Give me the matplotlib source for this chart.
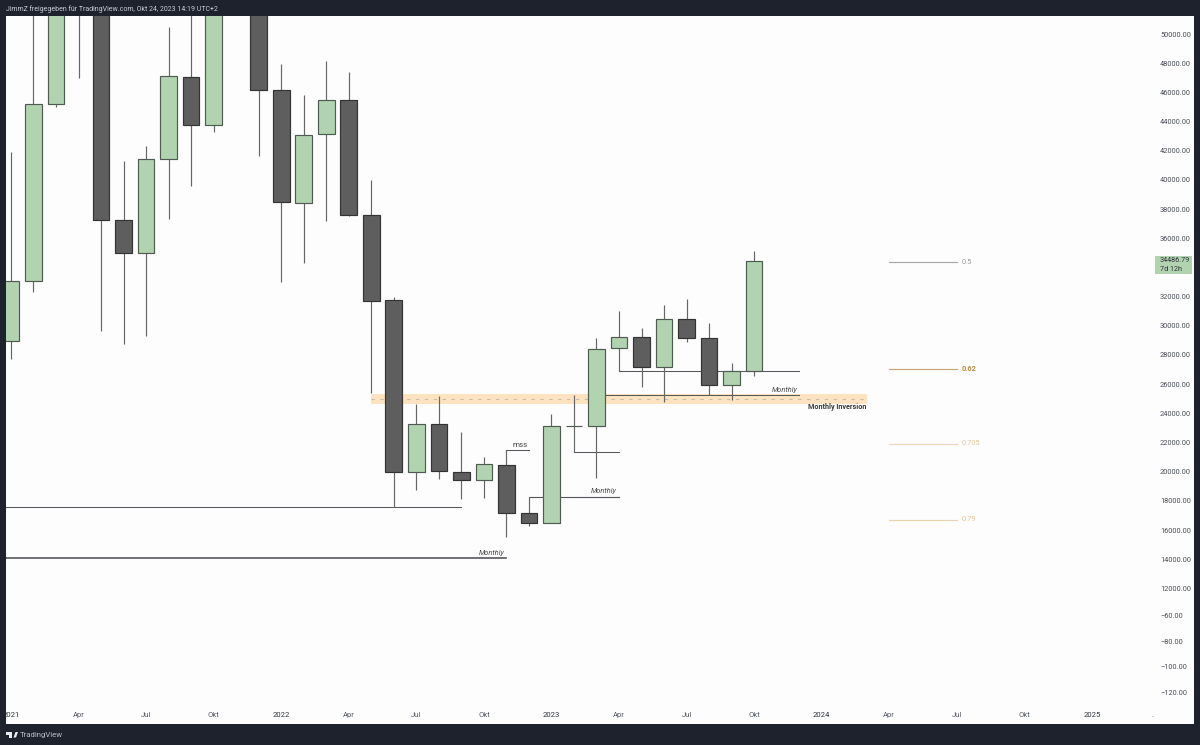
#!/usr/bin/env python3
import matplotlib
matplotlib.use("Agg")
import matplotlib.pyplot as plt
from matplotlib.patches import Rectangle, Polygon

plt.rcParams["font.family"] = ["Roboto", "DejaVu Sans"]

# monthly candles, Jan 2021 .. Oct 2023 (index = months since Jan 2021)
opens = [28958, 33091, 45202, 58800, 57720, 37252, 35010, 41453, 47053, 43740, 61300, 57000,
         46162, 38450, 43146, 45456, 37594, 31768, 19960, 23270, 20000, 19410, 20458, 17150,
         16500, 23130, 23100, 28450, 29210, 27176, 30445, 29185, 25920, 26925]
closes = [33091, 45202, 58800, 57720, 37272, 34990, 41432, 47100, 43763, 61300, 57000, 46140,
          38464, 43098, 45456, 37594, 31720, 19960, 23270, 20048, 19410, 20508, 17170, 16500,
          23132, 23147, 28430, 29210, 27176, 30445, 29185, 25920, 26925, 34460]
highs = [41933, 58000, 61800, 64900, 59500, 41296, 42344, 50480, 52900, 67000, 69000, 59000,
         47923, 45819, 48150, 47395, 39993, 31974, 24640, 25190, 22745, 21027, 21490, 18300,
         23955, 25257, 29160, 31015, 29830, 31405, 31816, 30190, 27470, 35150]
lows = [27725, 32317, 45000, 46984, 29644, 28753, 29300, 37320, 39582, 43283, 53000, 41638,
        33000, 34300, 37183, 37500, 25394, 17580, 18746, 19520, 18150, 18200, 15504, 16300,
        16490, 21350, 19570, 26930, 25826, 24800, 28870, 25236, 24915, 26560]

# drawn levels: price, start month, end month
level_prices = [17580, 14085, 21490, 18300, 21350, 26930, 25257]
level_starts = [-1, -1, 22, 23, 25, 27, 26]
level_ends = [20, 22, 23, 27, 27, 35, 35]
level_widths = [1.0, 1.6, 1.0, 1.1, 1.0, 1.0, 1.0]

zone_low, zone_high, zone_mid = 24661, 25326, 24983
zone_start, zone_end = 16, 38

fib_labels = ["0.5", "0.62", "0.705", "0.79"]
fib_prices = [34339, 27040, 21899, 16690]
fib_colors = ["#a8a8a8", "#c8a878", "#f0d8bc", "#ecd2ae"]
fib_text_colors = ["#9a9a9a", "#c08a3c", "#e8c79c", "#e3c08e"]
fib_start, fib_end = 39, 42

# 34000 sits under the last price tag, so it has no label
price_ticks = [p for p in range(12000, 50001, 2000) if p != 34000]
price_labels = [f"{p}.00" for p in price_ticks]
pct_ticks = [10110, 8396, 6630, 4900]
pct_labels = ["−60.00", "−80.00", "−100.00", "−120.00"]

month_ticks = [0, 3, 6, 9, 12, 15, 18, 21, 24, 27, 30, 33, 36, 39, 42, 45, 48, 50.7]
month_labels = ["2021", "Apr", "Jul", "Okt", "2022", "Apr", "Jul", "Okt", "2023", "Apr", "Jul", "Okt",
                "2024", "Apr", "Jul", "Okt", "2025", "."]

UP = "#b2d3b0"
DOWN = "#5e5e5e"
W, H = 1200, 745
DARK = "#1e222d"


def fx(px):
    return px / W


def fy(py):
    return 1 - py / H


fig = plt.figure(figsize=(12, 7.45), dpi=100, facecolor=DARK)
fig.patches.append(Rectangle((fx(6), fy(724)), fx(1188), (724 - 16) / H, transform=fig.transFigure,
                             facecolor="#fdfdfe", edgecolor="none", zorder=-1))
ax = fig.add_axes([fx(6), fy(708), fx(1149), (708 - 16) / H])
ax.patch.set_alpha(0)
for s in ax.spines.values():
    s.set_visible(False)
ax.set_xlim(-0.22, 50.8)
ax.set_ylim(3804, 51234)

ax.yaxis.tick_right()
ax.set_yticks(price_ticks + pct_ticks)
ax.set_yticklabels(price_labels + pct_labels)
ax.tick_params(axis="y", length=0, pad=3.6, labelsize=5.3, labelcolor="#4a4e56")
ax.set_xticks(month_ticks)
ax.set_xticklabels(month_labels)
ax.tick_params(axis="x", length=0, pad=3, labelsize=5.5, labelcolor="#555a63")
for lab in ax.get_xticklabels():
    if lab.get_text().isdigit():
        lab.set_color("#30343a")

# zone behind everything
ax.fill_between([zone_start, zone_end], zone_low, zone_high, color="#fde3bf", lw=0, zorder=1)
ax.plot([zone_start, zone_end], [zone_mid, zone_mid], color="#c4bfb4", lw=0.8, ls=(0, (3, 5)), zorder=1.5)

for p, a, b, lw in zip(level_prices, level_starts, level_ends, level_widths):
    ax.plot([a, b], [p, p], color="#55585c", lw=lw * 0.75, zorder=2)

# candles
months = list(range(len(opens)))
colors = [UP if c >= o else DOWN for o, c in zip(opens, closes)]
edges = ["#4f5a50" if c >= o else "#333333" for o, c in zip(opens, closes)]
ax.vlines(months, lows, highs, color="#666666", lw=0.85, zorder=3)
ax.bar(months, [c - o for o, c in zip(opens, closes)], bottom=opens, width=0.74, color=colors,
       edgecolor=edges, linewidth=0.85, zorder=4)

# fib levels
for lab, p, c, tc in zip(fib_labels, fib_prices, fib_colors, fib_text_colors):
    ax.plot([fib_start, fib_end], [p, p], color=c, lw=0.85, zorder=2)
    ax.text(fib_end + 0.2, p, lab, color=tc, fontsize=5.3, va="center", ha="left",
            fontweight="bold" if lab == "0.62" else "normal")

# annotations
note = dict(color="#4a4a4a", fontsize=5.3, ha="center", va="bottom", style="italic")
ax.text(21.35, 14230, "Monthly", **note)
ax.text(26.3, 18440, "Monthly", **note)
ax.text(34.35, 25400, "Monthly", **note)
ax.text(22.6, 21650, "mss", color="#444444", fontsize=5.8, ha="center", va="bottom")
ax.text(zone_end, 24450, "Monthly Inversion", color="#3a3a3a", fontsize=5.2, ha="right", va="center",
        fontweight="bold")

# last price tag
fig.patches.append(Rectangle((fx(1155), fy(274)), fx(37), 18 / H, transform=fig.transFigure,
                             facecolor="#b2d3b0", edgecolor="none", zorder=5))
fig.text(fx(1160), fy(260.5), "34486.79", color="#30343a", fontsize=5.2, va="center", zorder=6)
fig.text(fx(1160), fy(269.5), "7d 12h", color="#30343a", fontsize=5.2, va="center", zorder=6)

# frame on top so the cut "2021" label ends at the chart edge
fig.patches.append(Rectangle((0, 0), fx(6), 1, transform=fig.transFigure, facecolor=DARK, edgecolor="none", zorder=5))
fig.text(fx(6), fy(9), "JimmZ freigegeben für TradingView.com, Okt 24, 2023 14:19 UTC+2", color="#c9ccd3",
         fontsize=5.05, va="center", zorder=6)
fig.text(fx(20), fy(735), "TradingView", color="#b8bcc4", fontsize=5.6, va="center", zorder=6)

# logo
logo_t = [(6, 732), (11.5, 732), (11.5, 737.5), (8.5, 737.5), (8.5, 734.5), (6, 734.5)]
logo_v = [(13.5, 737.5), (15.5, 732), (18, 732), (16, 737.5)]
for pts in (logo_t, logo_v):
    fig.patches.append(Polygon([(fx(x), fy(y)) for x, y in pts], transform=fig.transFigure,
                               facecolor="#e8eaee", edgecolor="none", zorder=6))

fig.savefig("out.png", dpi=100, facecolor=DARK)
